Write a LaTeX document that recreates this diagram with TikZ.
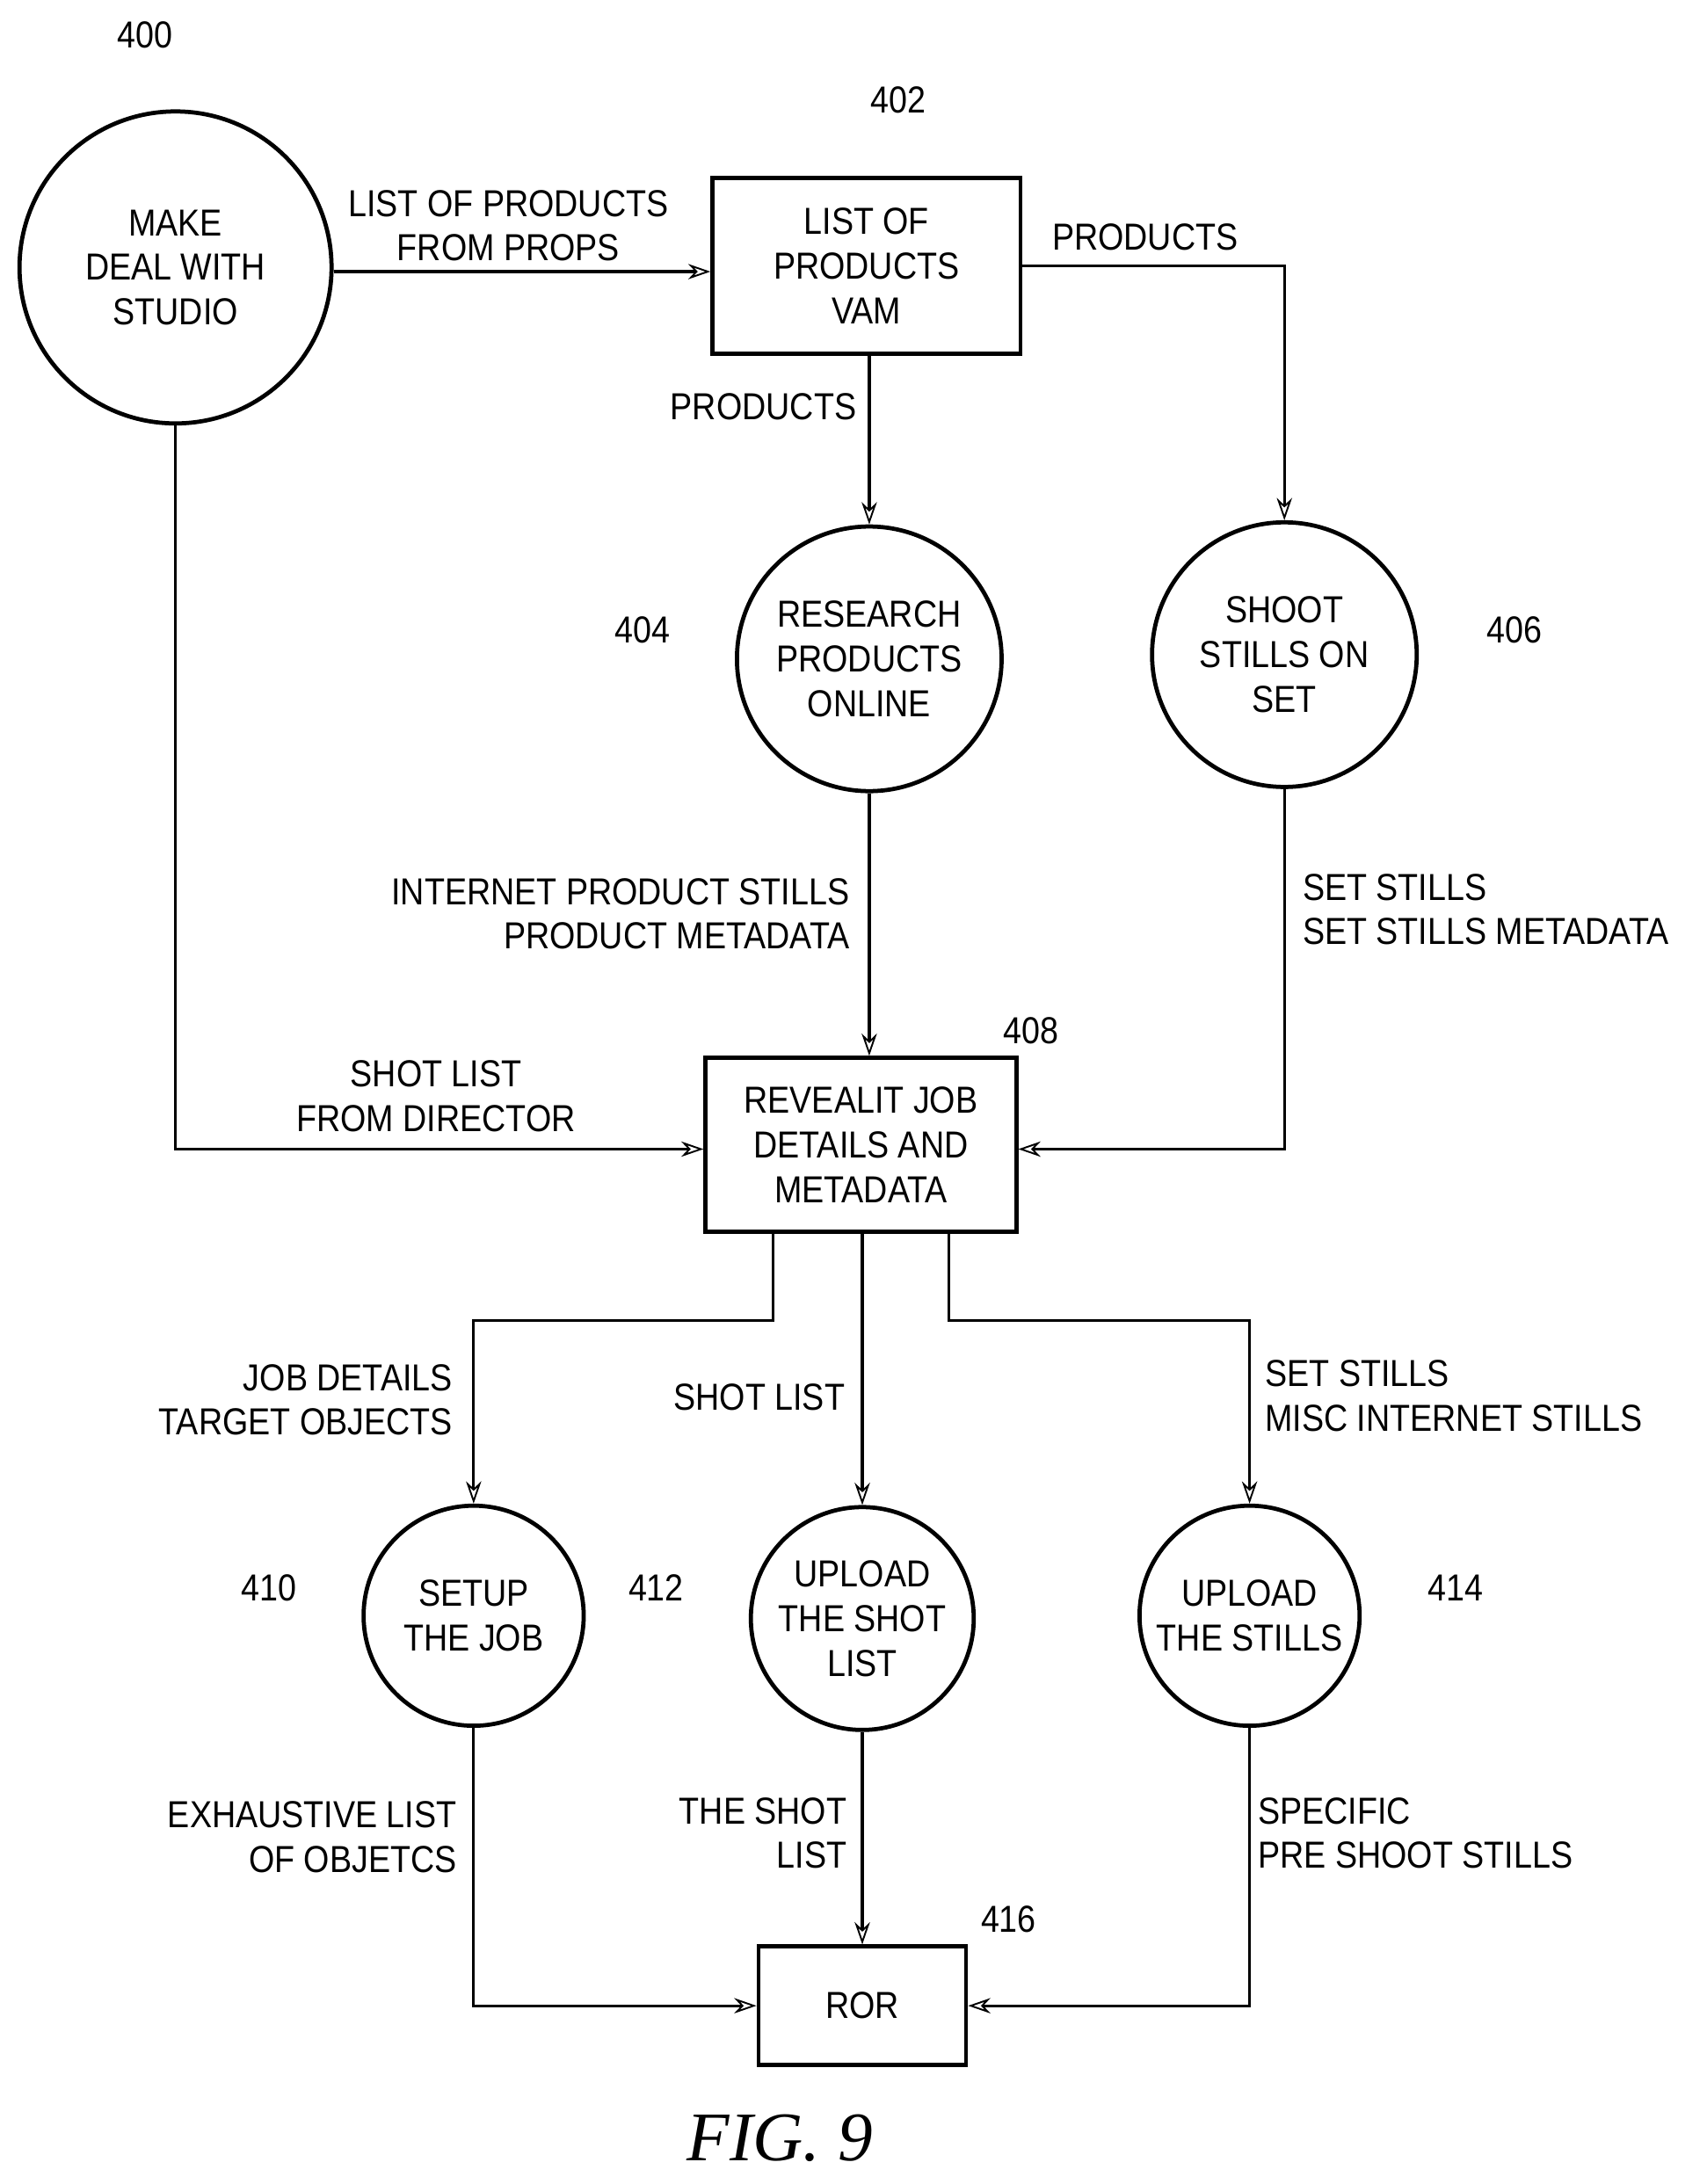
\documentclass[tikz,border=0pt]{standalone}
\usepackage{fontspec}
\setmainfont{Liberation Sans}[FakeStretch=0.88]
\usetikzlibrary{arrows.meta}
\tikzset{
  proc/.style={circle,draw,line width=3pt,align=center,inner sep=0pt},
  store/.style={rectangle,draw,line width=3pt,align=center,inner sep=0pt},
  flow/.style={line width=2pt,-{Stealth[open,length=16pt,width=11pt,line width=1.2pt]}},
  lbl/.style={inner sep=0pt,align=center},
}
\begin{document}
\begin{tikzpicture}[x=1pt,y=-1pt,font=\fontsize{27}{32}\selectfont]
\useasboundingbox (0,0) rectangle (1225,1568);

%processes and stores
\node[proc,minimum size=224pt] (deal) at (126,192) {MAKE\\DEAL WITH\\STUDIO};
\node[store,minimum width=221pt,minimum height=126pt] (vam) at (622,191) {LIST OF\\PRODUCTS\\VAM};
\node[proc,minimum size=190pt] (research) at (624,473) {RESEARCH\\PRODUCTS\\ONLINE};
\node[proc,minimum size=190pt] (shoot) at (922,470) {SHOOT\\STILLS ON\\SET};
\node[store,minimum width=223pt,minimum height=125pt] (job) at (618,822) {REVEALIT JOB\\DETAILS AND\\METADATA};
\node[proc,minimum size=158pt] (setup) at (340,1160) {SETUP\\THE JOB};
\node[proc,minimum size=160pt] (upshot) at (619,1162) {UPLOAD\\THE SHOT\\LIST};
\node[proc,minimum size=158pt] (upstill) at (897,1160) {UPLOAD\\THE STILLS};
\node[store,minimum width=149pt,minimum height=85pt] (ror) at (619,1440) {ROR};

%reference numbers
\node[lbl] (n400) at (104,25) {400};
\node[lbl] (n402) at (645,72) {402};
\node[lbl] (n404) at (461,452) {404};
\node[lbl] (n406) at (1087,452) {406};
\node[lbl] (n408) at (740,740) {408};
\node[lbl] (n410) at (193,1140) {410};
\node[lbl] (n412) at (471,1140) {412};
\node[lbl] (n414) at (1045,1140) {414};
\node[lbl] (n416) at (724,1378) {416};

%bends
\coordinate (c1) at (922,191);
\coordinate (c2) at (126,825);
\coordinate (c3) at (922,825);
\coordinate (c4) at (555,948);
\coordinate (c5) at (340,948);
\coordinate (c6) at (681,948);
\coordinate (c7) at (897,948);
\coordinate (c8) at (340,1440);
\coordinate (c9) at (897,1440);

%flows
\draw[flow] (deal.east |- 0,195) -- (vam.west |- 0,195);
\draw[flow] (research.north |- vam.south) -- (research.north);
\draw[flow] (vam.east |- c1) -- (c1) -- (shoot.north);
\draw[flow] (research.south) -- (research.south |- job.north);
\draw[flow] (shoot.south) -- (c3) -- (job.east |- c3);
\draw[flow] (deal.south) -- (c2) -- (job.west |- c2);
\draw[flow] (c4 |- job.south) -- (c4) -- (c5) -- (setup.north);
\draw[flow] (upshot.north |- job.south) -- (upshot.north);
\draw[flow] (c6 |- job.south) -- (c6) -- (c7) -- (upstill.north);
\draw[flow] (setup.south) -- (c8) -- (ror.west);
\draw[flow] (upshot.south) -- (ror.north);
\draw[flow] (upstill.south) -- (c9) -- (ror.east);

%flow labels
\node[lbl] (l1) at (365,162) {LIST OF PRODUCTS\\FROM PROPS};
\node[lbl] (l2) at (548,292) {PRODUCTS};
\node[lbl] (l3) at (822,170) {PRODUCTS};
\node[lbl,anchor=east,align=right] (l4) at (610,656) {INTERNET PRODUCT STILLS\\PRODUCT METADATA};
\node[lbl,anchor=west,align=left] (l5) at (935,653) {SET STILLS\\SET STILLS METADATA};
\node[lbl] (l6) at (313,787) {SHOT LIST\\FROM DIRECTOR};
\node[lbl,anchor=east,align=right] (l7) at (325,1005) {JOB DETAILS\\TARGET OBJECTS};
\node[lbl] (l8) at (545,1003) {SHOT LIST};
\node[lbl,anchor=west,align=left] (l9) at (908,1002) {SET STILLS\\MISC INTERNET STILLS};
\node[lbl,anchor=east,align=right] (l10) at (328,1319) {EXHAUSTIVE LIST\\OF OBJETCS};
\node[lbl,anchor=east,align=right] (l11) at (608,1316) {THE SHOT\\LIST};
\node[lbl,anchor=west,align=left] (l12) at (903,1316) {SPECIFIC\\PRE SHOOT STILLS};

\node[lbl,font=\fontspec{Liberation Serif}\itshape\fontsize{50}{56}\selectfont] (fig) at (560,1535) {FIG. 9};
\end{tikzpicture}
\end{document}
